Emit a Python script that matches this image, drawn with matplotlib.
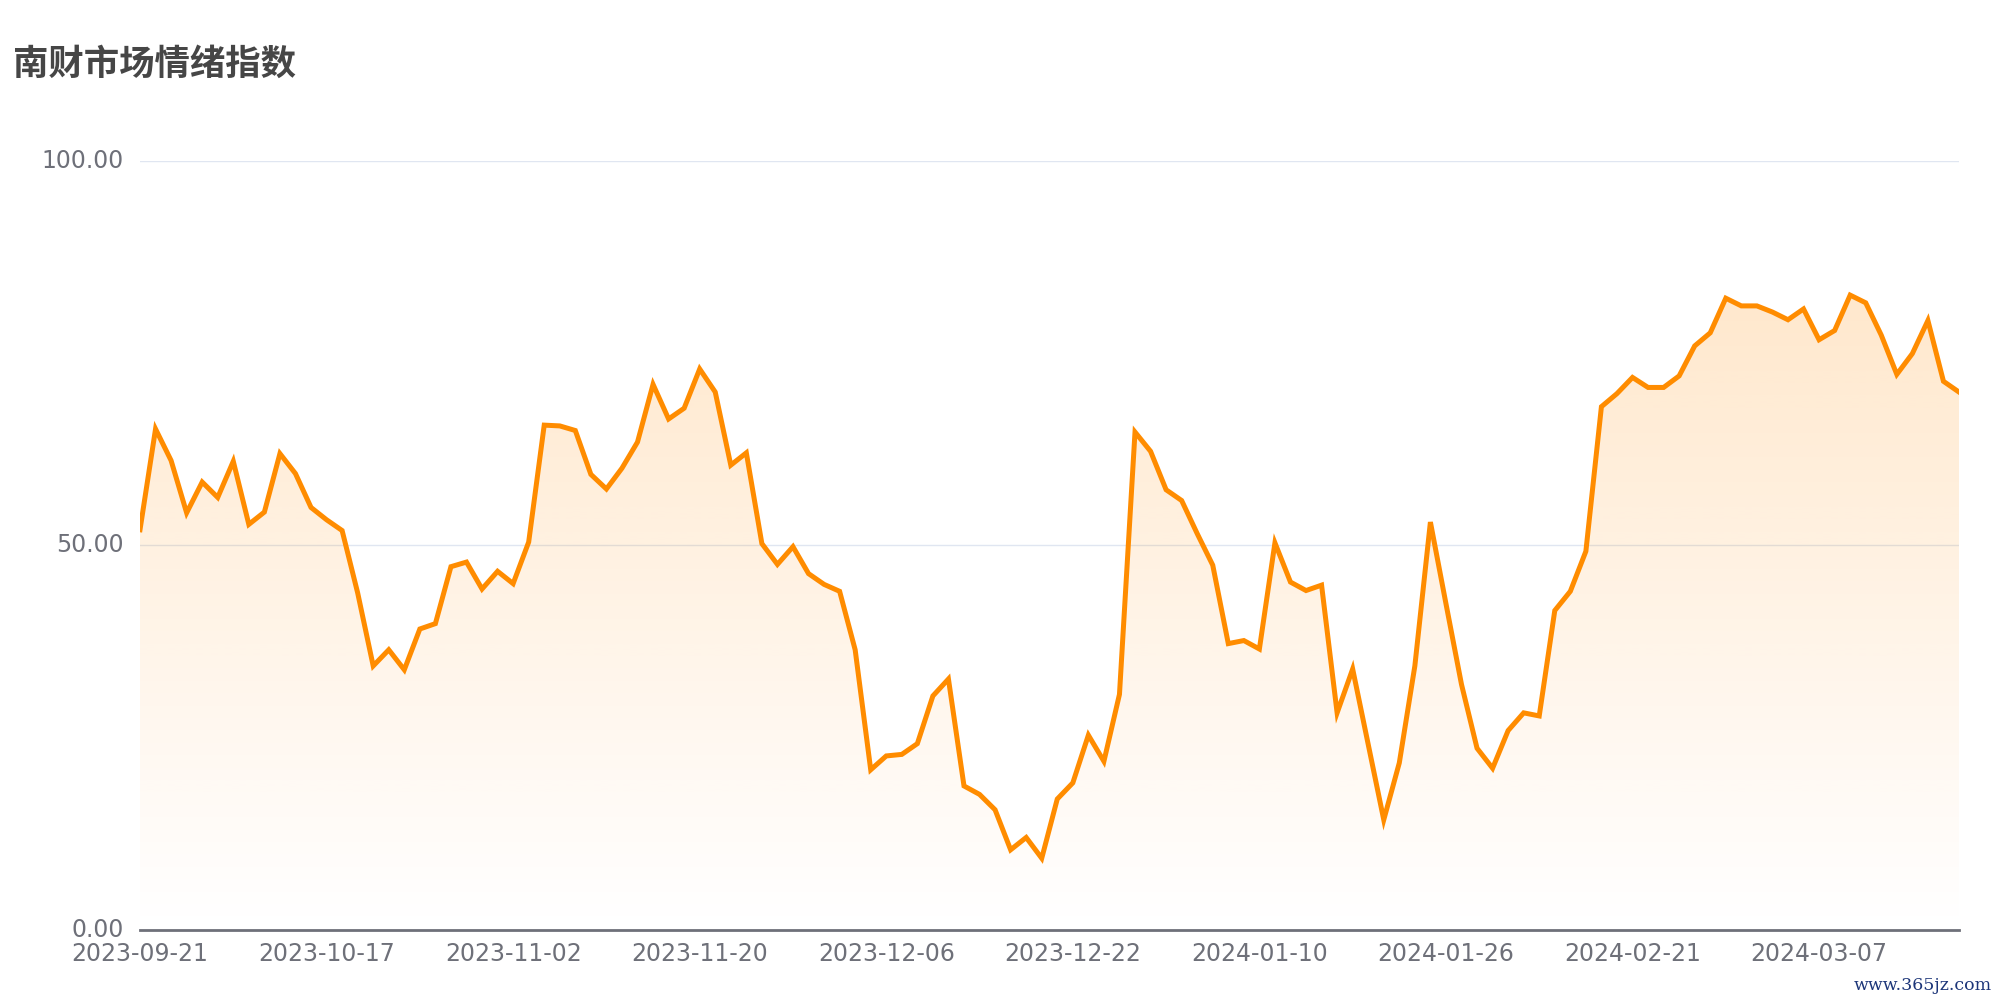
import matplotlib
matplotlib.use("Agg")
import matplotlib.pyplot as plt
import matplotlib.transforms as mtransforms
import numpy as np

# chart data
title = "南财市场情绪指数"
tick_labels = ["2023-09-21", "2023-10-17", "2023-11-02", "2023-11-20", "2023-12-06",
               "2023-12-22", "2024-01-10", "2024-01-26", "2024-02-21", "2024-03-07"]
tick_every = 12
y_ticks = [0, 50, 100]
values = [
    52.0, 65.1, 61.0, 54.2, 58.2, 56.2, 60.9, 52.7, 54.3, 61.9,
    59.3, 54.9, 53.3, 51.9, 43.8, 34.3, 36.4, 33.8, 39.1, 39.8,
    47.2, 47.8, 44.3, 46.6, 45.0, 50.4, 65.6, 65.5, 64.9, 59.2,
    57.3, 60.0, 63.4, 70.9, 66.4, 67.8, 72.9, 69.9, 60.4, 62.0,
    50.2, 47.5, 49.8, 46.3, 44.9, 44.0, 36.4, 20.8, 22.6, 22.8,
    24.2, 30.4, 32.6, 18.7, 17.6, 15.6, 10.4, 12.0, 9.3, 17.0,
    19.1, 25.3, 21.9, 30.6, 64.7, 62.2, 57.2, 55.8, 51.5, 47.4,
    37.2, 37.6, 36.5, 50.3, 45.2, 44.1, 44.8, 28.2, 33.9, 24.1,
    14.3, 21.7, 34.3, 53.0, 42.4, 31.9, 23.6, 21.0, 25.9, 28.2,
    27.8, 41.5, 44.0, 49.2, 68.0, 69.7, 71.8, 70.5, 70.5, 72.0,
    75.9, 77.6, 82.1, 81.1, 81.1, 80.3, 79.3, 80.7, 76.7, 77.9,
    82.5, 81.5, 77.3, 72.2, 74.9, 79.2, 71.3, 69.9,
]

plt.rcParams['font.family'] = ['DejaVu Sans']
axis_color = '#6E7079'
line_color = '#FF8C00'

fig = plt.figure(figsize=(20, 10), dpi=100)
ax = fig.add_axes([0.07, 0.0702, 0.9095, 0.7693])

x = np.arange(len(values))
vals = np.array(values)

# gradient area under the line (vertical alpha ramp clipped to the area)
fill = ax.fill_between(x, vals, 0, color='none', lw=0)
grad = np.zeros((256, 1, 4))
grad[:, 0, 0] = 1.0
grad[:, 0, 1] = 140 / 255
grad[:, 0, 2] = 0.0
grad[:, 0, 3] = np.linspace(0.0, 0.2, 256)
img = ax.imshow(grad, extent=[x[0], x[-1], 0, vals.max()], aspect='auto',
                origin='lower', zorder=1, interpolation='bilinear')
img.set_clip_path(fill.get_paths()[0], transform=ax.transData)

ax.plot(x, vals, color=line_color, lw=3.6, zorder=3, solid_joinstyle='miter')

ax.set_xlim(0, len(values) - 1)
ax.set_ylim(0, 100)
ax.set_autoscale_on(False)
ax.set_xticks(x[::tick_every][:len(tick_labels)])
ax.set_xticklabels(tick_labels)
ax.set_yticks(y_ticks)
ax.tick_params(axis='both', length=0, labelsize=17, labelcolor=axis_color)
ax.tick_params(axis='x', pad=9)
ax.tick_params(axis='y', labelleft=False)

# y labels placed 16 px left of the plot area
ylab_tr = ax.get_yaxis_transform() + mtransforms.ScaledTranslation(-0.16, 0, fig.dpi_scale_trans)
for v in y_ticks:
    ax.text(0, v, "%.2f" % v, transform=ylab_tr, ha='right', va='center',
            fontsize=17, color=axis_color, clip_on=False)

ax.grid(axis='y', color='#E0E6F1', lw=1.0, zorder=0)
ax.set_axisbelow(True)
for s in ['top', 'right', 'left']:
    ax.spines[s].set_visible(False)
ax.spines['bottom'].set_color(axis_color)
ax.spines['bottom'].set_linewidth(2.0)
ax.spines['bottom'].set_zorder(4)

fig.text(0.0065, 0.936, title, va='center', ha='left', fontsize=25.5,
         fontweight='bold', color='#464646',
         family=['Noto Sans CJK SC', 'DejaVu Sans'])
fig.text(0.996, 0.01, 'www.365jz.com', ha='right', va='baseline',
         fontsize=12.5, color='#1c3578', family='DejaVu Serif')

fig.savefig('out.png', dpi=100)
